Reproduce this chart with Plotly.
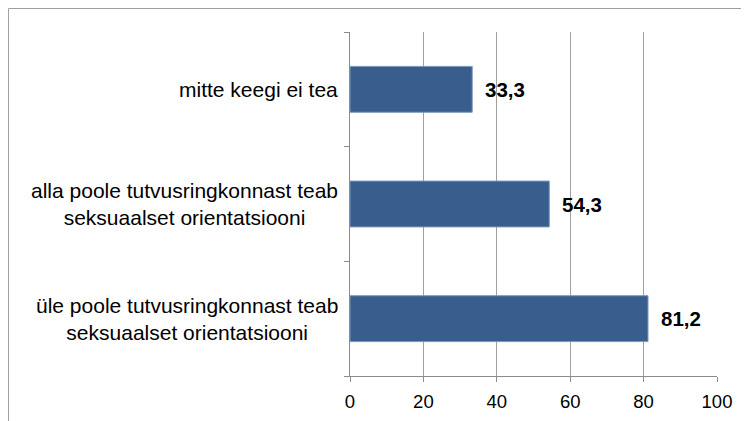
import plotly.graph_objects as go

# categories, bottom to top as drawn
categories = [
    "üle poole tutvusringkonnast teab<br>seksuaalset orientatsiooni",
    "alla poole tutvusringkonnast teab<br>seksuaalset orientatsiooni",
    "mitte keegi ei tea",
]
values = [81.2, 54.3, 33.3]
x_ticks = [0, 20, 40, 60, 80, 100]

font_family = "Liberation Sans, Arial, sans-serif"

fig = go.Figure()
fig.add_trace(go.Bar(
    x=values,
    y=categories,
    orientation="h",
    width=0.4,
    marker=dict(color="#395E8E", line=dict(color="#7C98BC", width=1)),
    hoverinfo="skip",
))

annotations = []
# value labels
for v, c in zip(values, categories):
    annotations.append(dict(
        x=v, y=c, xref="x", yref="y",
        text="<b>%s</b>" % ("%.1f" % v).replace(".", ","),
        showarrow=False, xanchor="left", xshift=11,
        font=dict(family=font_family, size=20.5, color="black"),
    ))
# category labels, centered lines
for c in categories:
    annotations.append(dict(
        x=0, y=c, xref="paper", yref="y",
        text=c, showarrow=False, xanchor="right", align="center",
        xshift=-10,
        font=dict(family=font_family, size=21, color="black"),
    ))

# page body has an 8px margin, so the figure starts at (8, 8)
fig.update_layout(
    width=749, height=421,
    margin=dict(l=342, r=40, t=24, b=53),
    plot_bgcolor="white",
    paper_bgcolor="white",
    showlegend=False,
    annotations=annotations,
    font=dict(family=font_family, color="black"),
    shapes=[dict(
        type="rect", xref="paper", yref="paper",
        x0=-0.9305, x1=2, y0=-1, y1=1.0683,
        line=dict(color="#A0A0A0", width=1),
        fillcolor="rgba(0,0,0,0)",
        layer="below",
    )],
)
fig.update_xaxes(
    range=[0, 100],
    tickvals=x_ticks,
    showgrid=True, gridcolor="#A0A0A0", gridwidth=1,
    showline=True, linecolor="#8C8C8C", linewidth=1,
    ticks="outside", ticklen=5, tickcolor="#8C8C8C",
    tickfont=dict(size=18.5, color="black"),
    ticklabelstandoff=4,
    zeroline=False,
    fixedrange=True,
)
fig.update_yaxes(
    type="category",
    categoryorder="array", categoryarray=categories,
    showticklabels=False,
    showgrid=False,
    showline=True, linecolor="#8C8C8C", linewidth=1,
    ticks="outside", ticklen=5, tickcolor="#8C8C8C",
    tickson="boundaries",
    zeroline=False,
    fixedrange=True,
)

fig.write_html("out.html", config={"displayModeBar": False})
